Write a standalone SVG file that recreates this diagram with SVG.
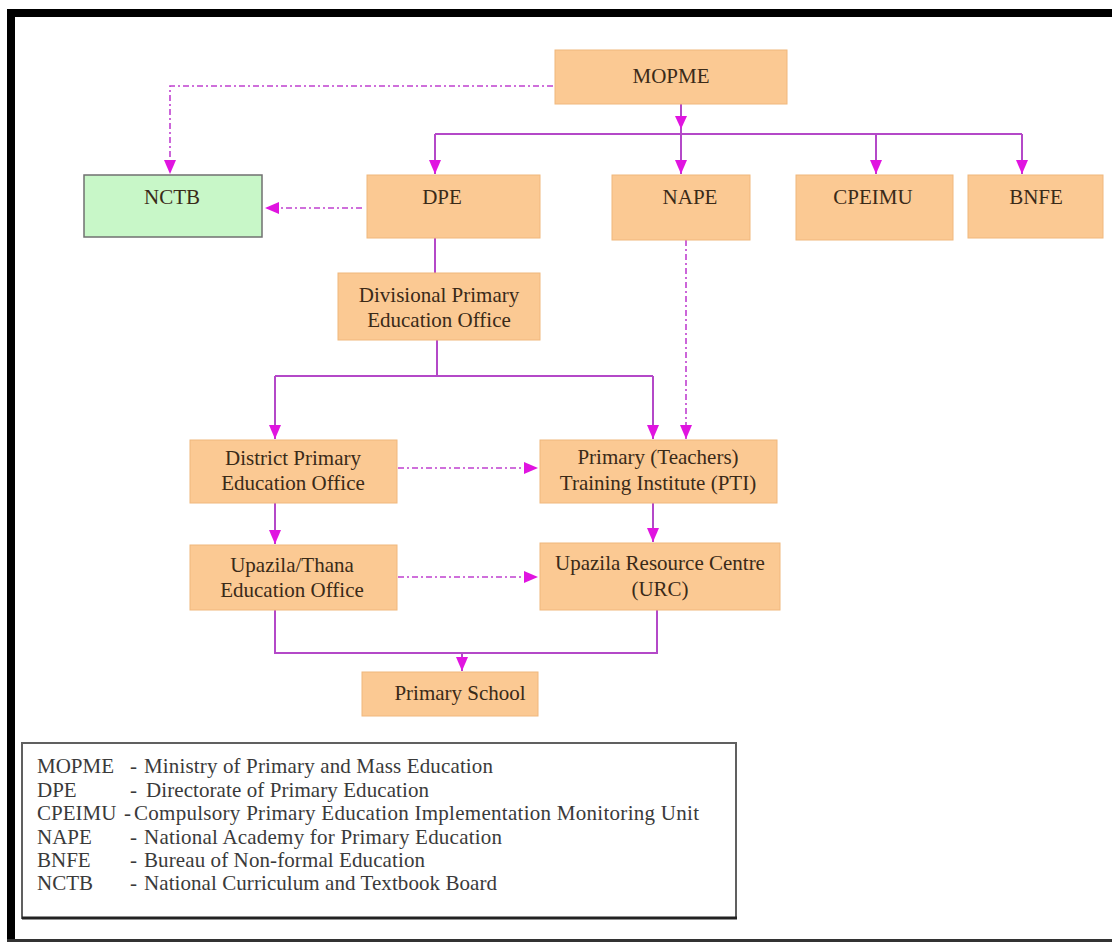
<svg xmlns="http://www.w3.org/2000/svg" width="1112" height="942" viewBox="0 0 1112 942">
<defs>
<style>
.box{fill:#fbc993;stroke:#f0b77c;stroke-width:1}
.green{fill:#c8f7c8;stroke:#707070;stroke-width:1.5}
.lbl{font-family:"Liberation Serif","Times New Roman",serif;font-size:21px;fill:#3a2a18;text-anchor:middle}
.leg{font-family:"Liberation Serif","Times New Roman",serif;font-size:21px;fill:#3a3a3a}
.ln{fill:none;stroke:#b448c8;stroke-width:2}
.dl{fill:none;stroke:#c040d0;stroke-width:1.6;stroke-dasharray:6,3,2,3}
</style>
<marker id="ar" viewBox="0 0 14 12" refX="14" refY="6" markerWidth="14" markerHeight="12" markerUnits="userSpaceOnUse" orient="auto">
<path d="M0,0 L14,6 L0,12 Z" fill="#e014e0"/>
</marker>
</defs>
<rect x="0" y="0" width="1112" height="942" fill="#ffffff"/>
<!-- frame -->
<rect x="7" y="9" width="1105" height="8" fill="#000"/>
<rect x="7" y="9" width="8" height="933" fill="#000"/>
<rect x="7" y="939" width="1105" height="3" fill="#333"/>

<g id="connectors">
<!-- MOPME to bus -->
<path class="ln" d="M681,104 V134"/>
<path d="M675,116 L687,116 L681,129 Z" fill="#e014e0"/>
<path class="ln" d="M435,134 H1022"/>
<path class="ln" d="M435,134 V174" marker-end="url(#ar)"/>
<path class="ln" d="M681,134 V174" marker-end="url(#ar)"/>
<path class="ln" d="M876,134 V174" marker-end="url(#ar)"/>
<path class="ln" d="M1022,134 V174" marker-end="url(#ar)"/>
<!-- MOPME dashed to NCTB -->
<path class="dl" d="M553,86 H170 V174" marker-end="url(#ar)"/>
<!-- DPE dashed to NCTB -->
<path class="dl" d="M362,208 H265" marker-end="url(#ar)"/>
<!-- DPE to Divisional -->
<path class="ln" d="M435,238 V273"/>
<!-- Divisional to District & PTI -->
<path class="ln" d="M437,340 V376"/>
<path class="ln" d="M275,376 H653"/>
<path class="ln" d="M275,376 V439" marker-end="url(#ar)"/>
<path class="ln" d="M653,376 V439" marker-end="url(#ar)"/>
<!-- NAPE dashed to PTI -->
<path class="dl" d="M686,240 V439" marker-end="url(#ar)"/>
<!-- District to PTI dashed -->
<path class="dl" d="M398,468 H538" marker-end="url(#ar)"/>
<!-- District to Upazila -->
<path class="ln" d="M275,503 V544" marker-end="url(#ar)"/>
<!-- PTI to URC -->
<path class="ln" d="M653,503 V542" marker-end="url(#ar)"/>
<!-- Upazila to URC dashed -->
<path class="dl" d="M398,577 H538" marker-end="url(#ar)"/>
<!-- bottom bus -->
<path class="ln" d="M275,610 V653 H657 V610"/>
<path class="ln" d="M462,653 V671" marker-end="url(#ar)"/>
</g>

<g id="node-mopme"><rect class="box" x="555" y="50" width="232" height="54"/><text class="lbl" x="671" y="83">MOPME</text></g>
<g id="node-nctb"><rect class="green" x="84" y="175" width="178" height="62"/><text class="lbl" x="172" y="204">NCTB</text></g>
<g id="node-dpe"><rect class="box" x="367" y="175" width="173" height="63"/><text class="lbl" x="442" y="204">DPE</text></g>
<g id="node-nape"><rect class="box" x="612" y="175" width="138" height="65"/><text class="lbl" x="690" y="204">NAPE</text></g>
<g id="node-cpeimu"><rect class="box" x="796" y="175" width="157" height="65"/><text class="lbl" x="873" y="204">CPEIMU</text></g>
<g id="node-bnfe"><rect class="box" x="968" y="175" width="135" height="63"/><text class="lbl" x="1036" y="204">BNFE</text></g>
<g id="node-divisional"><rect class="box" x="338" y="273" width="202" height="67"/><text class="lbl" x="439" y="302">Divisional Primary</text><text class="lbl" x="439" y="327">Education Office</text></g>
<g id="node-district"><rect class="box" x="190" y="440" width="207" height="63"/><text class="lbl" x="293" y="465">District Primary</text><text class="lbl" x="293" y="490">Education Office</text></g>
<g id="node-pti"><rect class="box" x="540" y="440" width="237" height="63"/><text class="lbl" x="658" y="464">Primary (Teachers)</text><text class="lbl" x="658" y="490">Training Institute (PTI)</text></g>
<g id="node-upazila"><rect class="box" x="190" y="545" width="207" height="65"/><text class="lbl" x="292" y="572">Upazila/Thana</text><text class="lbl" x="292" y="597">Education Office</text></g>
<g id="node-urc"><rect class="box" x="540" y="543" width="240" height="67"/><text class="lbl" x="660" y="570">Upazila Resource Centre</text><text class="lbl" x="660" y="596">(URC)</text></g>
<g id="node-school"><rect class="box" x="362" y="672" width="176" height="44"/><text class="lbl" x="460" y="700">Primary School</text></g>

<g id="legend">
<rect x="22" y="743" width="714" height="175" fill="#fff" stroke="#606060" stroke-width="2"/>
<line x1="22" y1="918" x2="737" y2="918" stroke="#222" stroke-width="3"/>
<text class="leg" x="37" y="773">MOPME</text><text class="leg" x="130" y="773">-</text><text class="leg" x="144" y="773" textLength="349">Ministry of Primary and Mass Education</text>
<text class="leg" x="37" y="797">DPE</text><text class="leg" x="130" y="797">-</text><text class="leg" x="146" y="797" textLength="283">Directorate of Primary Education</text>
<text class="leg" x="37" y="820">CPEIMU</text><text class="leg" x="124" y="820">-</text><text class="leg" x="134" y="820" textLength="565">Compulsory Primary Education Implementation Monitoring Unit</text>
<text class="leg" x="37" y="844">NAPE</text><text class="leg" x="130" y="844">-</text><text class="leg" x="144" y="844" textLength="358">National Academy for Primary Education</text>
<text class="leg" x="37" y="867">BNFE</text><text class="leg" x="130" y="867">-</text><text class="leg" x="144" y="867" textLength="281">Bureau of Non-formal Education</text>
<text class="leg" x="37" y="890">NCTB</text><text class="leg" x="130" y="890">-</text><text class="leg" x="144" y="890" textLength="353">National Curriculum and Textbook Board</text>
</g>
</svg>
